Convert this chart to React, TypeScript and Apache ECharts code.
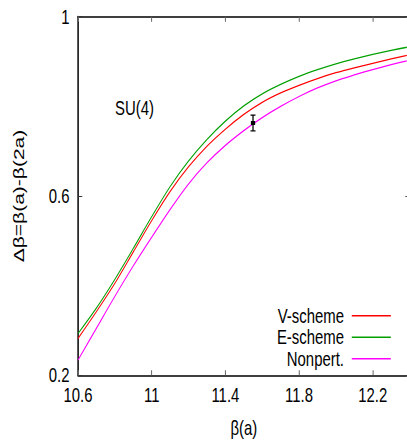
import React, { useEffect, useRef } from "react";
import * as echarts from "echarts";

// beta(a) sample points
const betaValues = [10.6, 10.7, 10.8, 10.9, 11.0, 11.1, 11.2, 11.3, 11.4, 11.5, 11.6, 11.7, 11.8, 11.9, 12.0, 12.1, 12.2, 12.3, 12.4];
// Delta beta curves
const vScheme = [0.282, 0.342, 0.405, 0.475, 0.545, 0.610, 0.665, 0.711, 0.749, 0.782, 0.809, 0.830, 0.847, 0.862, 0.875, 0.886, 0.896, 0.906, 0.915];
const eScheme = [0.293, 0.350, 0.414, 0.483, 0.554, 0.621, 0.678, 0.726, 0.767, 0.801, 0.828, 0.849, 0.867, 0.882, 0.895, 0.906, 0.916, 0.925, 0.933];
const nonpert = [0.234, 0.305, 0.376, 0.444, 0.508, 0.570, 0.627, 0.674, 0.713, 0.746, 0.775, 0.800, 0.822, 0.841, 0.857, 0.870, 0.882, 0.893, 0.903];
// Monte Carlo point with error bar
const pointBeta = [11.55];
const pointValue = [0.763];
const pointError = [0.0175];

const seriesNames = ["V-scheme", "E-scheme", "Nonpert."];
const seriesColors = ["#ff0000", "#00a000", "#ff00ff"];

const xMin = 10.6;
const xMax = 12.4;
const xStep = 0.4;
const yMin = 0.2;
const yMax = 1;
const yStep = 0.4;

const W = 407;
const H = 441;
const SX = 0.71; // horizontal condensation of the reference
const IW = W / SX;
const FONT = "'Liberation Sans', Arial, Helvetica, sans-serif";

export default function App() {
  const ref = useRef<HTMLDivElement>(null);
  useEffect(() => {
    if (!ref.current) return;
    const chart = echarts.init(ref.current, null, { renderer: "svg" });
    const curves = [vScheme, eScheme, nonpert];
    const lineSeries = seriesNames.map((name, i) => ({
      name,
      type: "line",
      data: betaValues.map((b, k) => [b, curves[i][k]]),
      smooth: 0.3,
      showSymbol: false,
      symbol: "none",
      lineStyle: { color: seriesColors[i], width: 1.3 },
      itemStyle: { color: seriesColors[i] },
      z: 3 - i,
    }));
    const axisLineStyle = { lineStyle: { color: "#000", width: 1.6 } };
    const tickStyleX = { inside: true, length: 5, lineStyle: { color: "#666", width: 1.4 } };
    const tickStyleY = { inside: true, length: 6, lineStyle: { color: "#333", width: 1.2 } };
    chart.setOption({
      animation: false,
      backgroundColor: "#fff",
      grid: {
        left: 78 / SX,
        top: 16.7,
        width: 331.6 / SX,
        height: 358.6,
        outerBoundsMode: "none",
      },
      xAxis: [
        {
          type: "value",
          min: xMin,
          max: xMax,
          interval: xStep,
          position: "bottom",
          name: "β(a)",
          nameLocation: "middle",
          nameGap: 42,
          nameTextStyle: { fontSize: 21, fontFamily: FONT, color: "#000" },
          axisLine: axisLineStyle,
          axisTick: tickStyleX,
          splitLine: { show: false },
          axisLabel: { fontSize: 21, fontFamily: FONT, color: "#000", margin: 9, showMaxLabel: false },
        },
        {
          type: "value",
          min: xMin,
          max: xMax,
          interval: xStep,
          position: "top",
          axisLine: axisLineStyle,
          axisTick: tickStyleX,
          splitLine: { show: false },
          axisLabel: { show: false },
        },
      ],
      yAxis: [
        {
          type: "value",
          min: yMin,
          max: yMax,
          interval: yStep,
          position: "left",
          name: "Δβ=β(a)-β(2a)",
          nameLocation: "middle",
          nameGap: 73,
          nameTextStyle: { fontSize: 21, fontFamily: FONT, color: "#000" },
          axisLine: { lineStyle: { color: "#000", width: 2.1 } },
          axisTick: tickStyleY,
          splitLine: { show: false },
          axisLabel: { fontSize: 21, fontFamily: FONT, color: "#000", margin: 12 },
        },
        {
          type: "value",
          min: yMin,
          max: yMax,
          interval: yStep,
          position: "right",
          axisLine: { lineStyle: { color: "#000", width: 2.1 } },
          axisTick: tickStyleY,
          splitLine: { show: false },
          axisLabel: { show: false },
        },
      ],
      legend: {
        data: seriesNames,
        orient: "vertical",
        align: "right",
        right: IW - 391 / SX,
        top: 305,
        padding: 0,
        itemGap: 0,
        itemWidth: 55,
        itemHeight: 1.6,
        icon: "rect",
        textStyle: { fontSize: 21, fontFamily: FONT, color: "#000", lineHeight: 21.5, padding: [0, 6, 0, 0] },
      },
      graphic: [
        {
          type: "text",
          left: 115 / SX,
          top: 98,
          style: { text: "SU(4)", fontSize: 21, fontFamily: FONT, fill: "#000" },
        },
      ],
      series: [
        ...lineSeries,
        {
          type: "custom",
          name: "MC",
          xAxisIndex: 0,
          yAxisIndex: 0,
          data: pointBeta.map((b, i) => [b, pointValue[i], pointError[i]]),
          encode: { x: 0, y: 1 },
          z: 10,
          renderItem: (params: any, api: any) => {
            const x = api.value(0);
            const y = api.value(1);
            const e = api.value(2);
            const top = api.coord([x, y + e]);
            const bot = api.coord([x, y - e]);
            const c = api.coord([x, y]);
            const cap = 3.5;
            return {
              type: "group",
              children: [
                { type: "line", shape: { x1: top[0], y1: top[1], x2: bot[0], y2: bot[1] }, style: { stroke: "#000", lineWidth: 1.8 } },
                { type: "line", shape: { x1: top[0] - cap, y1: top[1], x2: top[0] + cap, y2: top[1] }, style: { stroke: "#000", lineWidth: 1.2 } },
                { type: "line", shape: { x1: bot[0] - cap, y1: bot[1], x2: bot[0] + cap, y2: bot[1] }, style: { stroke: "#000", lineWidth: 1.2 } },
                { type: "rect", shape: { x: c[0] - 3, y: c[1] - 2, width: 6, height: 4 }, style: { fill: "#000" } },
              ],
            };
          },
        },
      ],
    } as any);
    return () => chart.dispose();
  }, []);
  return (
    <div style={{ position: "fixed", left: 0, top: 0, width: W, height: H, overflow: "hidden", background: "#fff" }}>
      <div
        ref={ref}
        style={{ width: IW, height: H, transform: `scaleX(${SX})`, transformOrigin: "0 0" }}
      />
    </div>
  );
}
